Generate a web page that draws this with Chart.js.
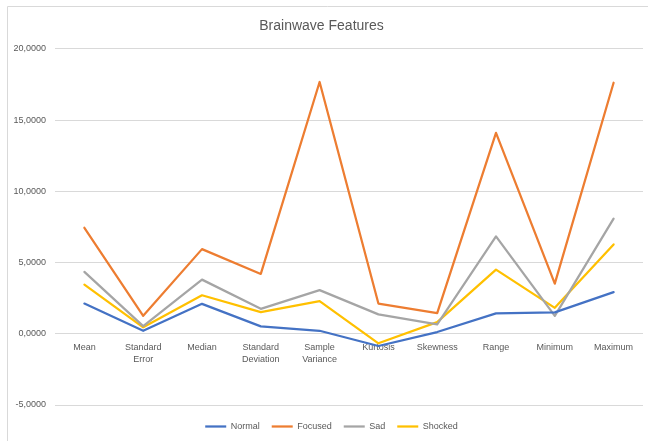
<!DOCTYPE html>
<html>
<head>
<meta charset="utf-8">
<script src="https://cdn.jsdelivr.net/npm/chart.js@4/dist/chart.umd.min.js"></script>
<style>
  html, body { margin: 0; padding: 0; background: #fff; }
  #wrap { position: relative; width: 648px; height: 441px; }
</style>
</head>
<body>
<div id="wrap"><canvas id="myChart" width="648" height="441"></canvas></div>
<script>
// CHART DATA
const categories = ['Mean', ['Standard', 'Error'], 'Median', ['Standard', 'Deviation'], ['Sample', 'Variance'],
  'Kurtosis', 'Skewness', 'Range', 'Minimum', 'Maximum'];
const normal = [2.12, 0.21, 2.10, 0.52, 0.21, -0.86, 0.12, 1.43, 1.50, 2.92];
const focused = [7.44, 1.26, 5.94, 4.20, 17.67, 2.12, 1.45, 14.10, 3.52, 17.62];
const sad = [4.34, 0.54, 3.80, 1.75, 3.06, 1.36, 0.66, 6.83, 1.26, 8.08];
const shocked = [3.45, 0.45, 2.70, 1.52, 2.29, -0.67, 0.82, 4.50, 1.82, 6.27];
const yTicks = [-5, 0, 5, 10, 15, 20];

const textColor = '#595959';
const gridColor = '#d9d9d9';
const fontFamily = '"Liberation Sans", Arial, sans-serif';

function series(label, data, color) {
  return {
    label: label,
    data: data,
    borderColor: color,
    backgroundColor: color,
    borderWidth: 2.25,
    pointRadius: 0,
    pointHoverRadius: 0,
    tension: 0,
    borderJoinStyle: 'round',
    borderCapStyle: 'round'
  }
}

// light frame on the left and top like the excel chart area
const framePlugin = {
  id: 'frame',
  beforeDraw(chart) {
    const c = chart.ctx;
    c.save();
    c.strokeStyle = gridColor;
    c.lineWidth = 1;
    c.beginPath();
    c.moveTo(7.5, 441);
    c.lineTo(7.5, 6.5);
    c.lineTo(648, 6.5);
    c.stroke();
    c.restore();
  }
};

// nudge the legend so it sits under the plot like in excel
const legendNudge = {
  id: 'legendNudge',
  afterLayout(chart) {
    const lg = chart.legend;
    lg.top += 5; lg.bottom += 5;
    lg.left += 10; lg.right += 10;
  }
};

const ctx = document.getElementById('myChart').getContext('2d');
const myChart = new Chart(ctx, {
  type: 'line',
  data: {
    labels: categories,
    datasets: [
      series('Normal', normal, '#4472C4'),
      series('Focused', focused, '#ED7D31'),
      series('Sad', sad, '#A5A5A5'),
      series('Shocked', shocked, '#FFC000')
    ]
  },
  plugins: [framePlugin, legendNudge],
  options: {
    responsive: false,
    animation: false,
    layout: { padding: { left: 0, right: 5, top: 0, bottom: 5 } },
    plugins: {
      title: {
        display: true,
        text: 'Brainwave Features',
        color: textColor,
        font: { family: fontFamily, size: 14, weight: 'normal' },
        padding: { top: 18, bottom: 14 }
      },
      legend: {
        position: 'bottom',
        labels: {
          color: textColor,
          font: { family: fontFamily, size: 9 },
          usePointStyle: true,
          pointStyle: 'line',
          pointStyleWidth: 21,
          padding: 12
        }
      },
      tooltip: { enabled: false }
    },
    scales: {
      x: {
        position: { y: 0 },
        offset: true,
        grid: { display: false, drawTicks: false },
        border: { display: false },
        ticks: {
          color: textColor,
          font: { family: fontFamily, size: 9, lineHeight: 1.3 },
          autoSkip: false,
          maxRotation: 0,
          padding: 8
        }
      },
      y: {
        min: -5,
        max: 20,
        afterFit(scale) { scale.width = 55 },
        afterBuildTicks(scale) { scale.ticks = yTicks.map(v => ({ value: v })) },
        grid: { color: gridColor, lineWidth: 1, drawTicks: false },
        border: { display: false },
        ticks: {
          color: textColor,
          font: { family: fontFamily, size: 9 },
          padding: 9,
          callback: (v) => v.toFixed(4).replace('.', ',')
        }
      }
    }
  }
});
</script>
</body>
</html>
